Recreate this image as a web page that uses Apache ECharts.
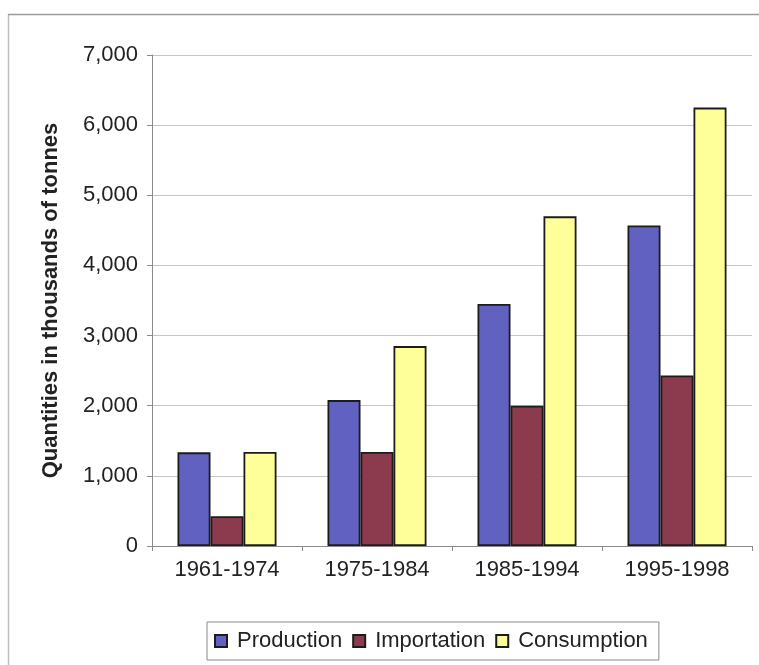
<!DOCTYPE html>
<html>
<head>
<meta charset="utf-8">
<script src="https://cdn.jsdelivr.net/npm/echarts@6/dist/echarts.min.js"></script>
<style>
  html, body { margin: 0; padding: 0; background: #fff; }
  #chart { width: 759px; height: 665px; }
</style>
</head>
<body>
<div id="chart"></div>
<script>
// periods on the x axis
var periods = ['1961-1974', '1975-1984', '1985-1994', '1995-1998']
// thousands of tonnes
var production = [1335, 2080, 3450, 4570]
var importation = [425, 1340, 2000, 2430]
var consumption = [1340, 2850, 4700, 6250]

var font = 'Arial, "Liberation Sans", sans-serif'
var chart = echarts.init(document.getElementById('chart'))

function barSeries (name, data, color) {
  return {
    name: name,
    type: 'bar',
    data: data,
    barWidth: 33,
    barGap: '0%',
    itemStyle: {
      color: color,
      borderColor: '#1c1c1c',
      borderWidth: 1.8
    }
  }
}

var option = {
  animation: false,
  backgroundColor: '#fff',
  textStyle: { fontFamily: font },
  graphic: [
    // left and top frame lines of the scanned chart
    { type: 'line', shape: { x1: 8.5, y1: 15, x2: 8.5, y2: 665 }, style: { stroke: '#bdbdbd', lineWidth: 1.5 } },
    { type: 'line', shape: { x1: 8, y1: 14.5, x2: 759, y2: 14.5 }, style: { stroke: '#9a9a9a', lineWidth: 1.5 } }
  ],
  grid: {
    left: 152,
    right: 7,
    top: 55,
    bottom: 119,
    containLabel: false
  },
  legend: {
    left: 207,
    top: 622,
    padding: [8, 11, 8, 7],
    itemGap: 10,
    itemWidth: 12,
    itemHeight: 12,
    borderColor: '#8a8a8a',
    borderWidth: 1,
    icon: 'rect',
    textStyle: { fontSize: 22, color: '#222', fontFamily: font, padding: [0, 0, 0, 5] },
    data: ['Production', 'Importation', 'Consumption']
  },
  xAxis: {
    type: 'category',
    data: periods,
    axisLine: { lineStyle: { color: '#8a8a8a', width: 1 } },
    axisTick: { show: true, inside: false, length: 5, lineStyle: { color: '#8a8a8a' } },
    axisLabel: { fontSize: 22, color: '#222', margin: 13 }
  },
  yAxis: {
    type: 'value',
    min: 0,
    max: 7000,
    interval: 1000,
    name: 'Quantities in thousands of tonnes',
    nameLocation: 'middle',
    nameGap: 90,
    nameTextStyle: { fontSize: 22, fontWeight: 'bold', color: '#222' },
    axisLine: { show: true, lineStyle: { color: '#8a8a8a', width: 1 } },
    axisTick: { show: true, inside: false, length: 5, lineStyle: { color: '#8a8a8a' } },
    axisLabel: {
      fontSize: 22,
      color: '#222',
      margin: 14,
      formatter: function (v) {
        return String(v).replace(/\B(?=(\d{3})+(?!\d))/g, ',')
      }
    },
    splitLine: { show: true, lineStyle: { color: '#c6c6c6', width: 1 } }
  },
  series: [
    barSeries('Production', production, '#6161c2'),
    barSeries('Importation', importation, '#8c3a4e'),
    barSeries('Consumption', consumption, '#ffff99')
  ]
}

chart.setOption(option)
</script>
</body>
</html>
